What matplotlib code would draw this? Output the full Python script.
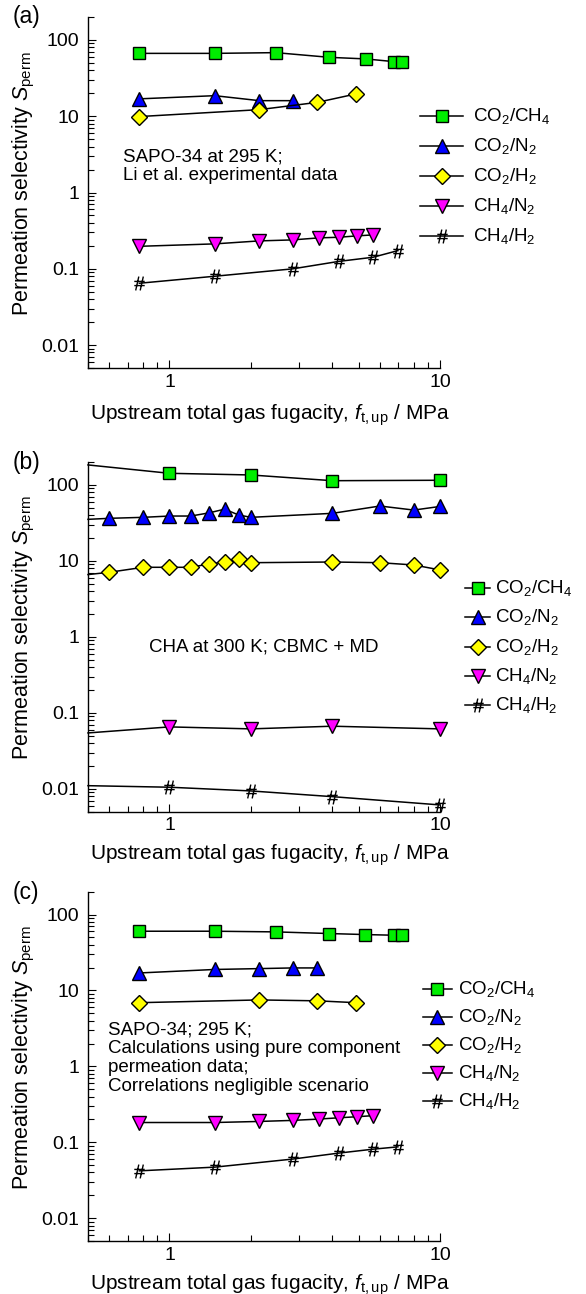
import matplotlib
matplotlib.use('Agg')
import matplotlib.pyplot as plt
from matplotlib.path import Path
from matplotlib.lines import Line2D
from matplotlib.ticker import NullFormatter

plt.rcParams['font.family'] = ['Liberation Sans', 'DejaVu Sans']
plt.rcParams['mathtext.fontset'] = 'custom'
plt.rcParams['mathtext.rm'] = 'Liberation Sans'
plt.rcParams['mathtext.it'] = 'Liberation Sans:italic'
plt.rcParams['font.size'] = 13.5

# ---- panel (a): SAPO-34 experimental
a_f_co2ch4 = [0.774, 1.47, 2.47, 3.90, 5.32, 6.75, 7.26]
a_s_co2ch4 = [66.7, 66.7, 68.2, 59.2, 56.4, 52.0, 52.0]
a_f_co2n2 = [0.774, 1.47, 2.15, 2.85]
a_s_co2n2 = [16.9, 18.6, 16.0, 16.0]
a_f_co2h2 = [0.774, 2.15, 3.52, 4.89]
a_s_co2h2 = [9.9, 12.2, 15.2, 19.6]
a_f_ch4n2 = [0.774, 1.47, 2.15, 2.85, 3.56, 4.23, 4.94, 5.65]
a_s_ch4n2 = [0.197, 0.212, 0.232, 0.239, 0.254, 0.259, 0.270, 0.278]
a_f_ch4h2 = [0.774, 1.47, 2.85, 4.23, 5.65, 6.99]
a_s_ch4h2 = [0.0646, 0.0798, 0.0997, 0.125, 0.1415, 0.173]

# ---- panel (b): CHA CBMC + MD (first point at 0.5 drawn without marker)
b_f_co2ch4 = [0.5, 1, 2, 4, 10]
b_s_co2ch4 = [183, 142, 135, 113.5, 115]
b_f_co2n2 = [0.5, 0.6, 0.8, 1.0, 1.2, 1.4, 1.6, 1.8, 2.0, 4, 6, 8, 10]
b_s_co2n2 = [35.2, 36.3, 37.4, 38.9, 38.9, 42.8, 47.9, 40.2, 37.4, 42.2, 52.7, 46.6, 52]
b_f_co2h2 = [0.5, 0.6, 0.8, 1.0, 1.2, 1.4, 1.6, 1.8, 2.0, 4, 6, 8, 10]
b_s_co2h2 = [6.6, 7.08, 8.23, 8.23, 8.23, 9.10, 9.66, 10.6, 9.46, 9.66, 9.46, 8.83, 7.6]
b_f_ch4n2 = [0.5, 1, 2, 4, 10]
b_s_ch4n2 = [0.0544, 0.0653, 0.0615, 0.0667, 0.0615]
b_f_ch4h2 = [0.5, 1, 2, 4, 10]
b_s_ch4h2 = [0.0110, 0.0105, 0.00938, 0.00789, 0.00614]

# ---- panel (c): SAPO-34 calculated
c_f_co2ch4 = [0.774, 1.47, 2.47, 3.90, 5.28, 6.75, 7.26]
c_s_co2ch4 = [60.3, 60.3, 59.1, 56.2, 54.5, 53.4, 53.4]
c_f_co2n2 = [0.774, 1.47, 2.15, 2.85, 3.52]
c_s_co2n2 = [17.0, 18.9, 19.4, 19.8, 19.8]
c_f_co2h2 = [0.774, 2.15, 3.52, 4.89]
c_s_co2h2 = [6.9, 7.5, 7.3, 6.9]
c_f_ch4n2 = [0.774, 1.47, 2.15, 2.85, 3.56, 4.23, 4.94, 5.65]
c_s_ch4n2 = [0.182, 0.182, 0.188, 0.194, 0.202, 0.210, 0.217, 0.224]
c_f_ch4h2 = [0.774, 1.47, 2.85, 4.23, 5.65, 6.99]
c_s_ch4h2 = [0.042, 0.047, 0.060, 0.072, 0.081, 0.087]

labels = ['CO$_2$/CH$_4$', 'CO$_2$/N$_2$', 'CO$_2$/H$_2$', 'CH$_4$/N$_2$', 'CH$_4$/H$_2$']

# slanted "#" marker
hash_marker = Path([(-0.55, -1), (-0.1, 1), (0.1, -1), (0.55, 1),
                    (-0.75, 0.3), (0.75, 0.3), (-0.75, -0.3), (0.75, -0.3)],
                   [Path.MOVETO, Path.LINETO] * 4)

styles = [dict(marker='s', mfc='#00ee00', ms=9),
          dict(marker='^', mfc='#0000ff', ms=10),
          dict(marker='D', mfc='#ffff00', ms=8.5),
          dict(marker='v', mfc='#ff00ff', ms=10),
          dict(marker=hash_marker, mfc='none', ms=10)]

W, H = 586, 1294
fig = plt.figure(figsize=(W / 100, H / 100), dpi=100)

def px_rect(l, t, r, b):
    return [l / W, 1 - b / H, (r - l) / W, (b - t) / H]

panels = [
    dict(rect=px_rect(88, 17, 440, 368), tag='(a)', tag_y=17, xl_y=-0.097,
         data=[(a_f_co2ch4, a_s_co2ch4), (a_f_co2n2, a_s_co2n2), (a_f_co2h2, a_s_co2h2),
               (a_f_ch4n2, a_s_ch4n2), (a_f_ch4h2, a_s_ch4h2)],
         skip_first=False,
         note='SAPO-34 at 295 K;\nLi et al. experimental data', note_xy=(123, 166),
         leg=dict(x0=420, x1=463, xt=473, rows=[116, 146, 176, 206, 236])),
    dict(rect=px_rect(88, 462, 440, 811.7), tag='(b)', tag_y=463, xl_y=-0.087,
         data=[(b_f_co2ch4, b_s_co2ch4), (b_f_co2n2, b_s_co2n2), (b_f_co2h2, b_s_co2h2),
               (b_f_ch4n2, b_s_ch4n2), (b_f_ch4h2, b_s_ch4h2)],
         skip_first=True,
         note='CHA at 300 K; CBMC + MD', note_xy=(149, 647),
         leg=dict(x0=465, x1=490, xt=495, rows=[588, 617, 647, 676, 705])),
    dict(rect=px_rect(88, 891.7, 440, 1241), tag='(c)', tag_y=893, xl_y=-0.089,
         data=[(c_f_co2ch4, c_s_co2ch4), (c_f_co2n2, c_s_co2n2), (c_f_co2h2, c_s_co2h2),
               (c_f_ch4n2, c_s_ch4n2), (c_f_ch4h2, c_s_ch4h2)],
         skip_first=False,
         note='SAPO-34; 295 K;\nCalculations using pure component\npermeation data;\nCorrelations negligible scenario',
         note_xy=(108, 1058),
         leg=dict(x0=423, x1=452, xt=458, rows=[989, 1017, 1045, 1073, 1101])),
]

for p in panels:
    ax = fig.add_axes(p['rect'])
    for (f, s), st in zip(p['data'], styles):
        me = slice(1, None) if p['skip_first'] else None
        ax.plot(f, s, color='black', lw=1.1, marker=st['marker'], ms=st['ms'],
                mfc=st['mfc'], mec='black', mew=1.0, markevery=me, clip_on=False)
    ax.set_xscale('log')
    ax.set_yscale('log')
    ax.set_xlim(0.5, 10)
    ax.set_ylim(0.005, 200)
    ax.set_xticks([1, 10], labels=['1', '10'])
    ax.set_yticks([0.01, 0.1, 1, 10, 100], labels=['0.01', '0.1', '1', '10', '100'])
    ax.xaxis.set_minor_formatter(NullFormatter())
    ax.yaxis.set_minor_formatter(NullFormatter())
    for side in ['top', 'right']:
        ax.spines[side].set_visible(False)
    for side in ['left', 'bottom']:
        ax.spines[side].set_linewidth(1.0)
    ax.tick_params(which='both', direction='in', top=False, right=False, width=0.8)
    ax.tick_params(which='major', length=5.5, labelsize=14)
    ax.tick_params(which='minor', length=4)
    ax.tick_params(axis='x', which='major', pad=4)
    ax.tick_params(axis='y', which='major', pad=6.5)
    ax.set_xlabel('Upstream total gas fugacity, $f_{\\mathrm{t,up}}$ / MPa', fontsize=15)
    ax.set_ylabel('Permeation selectivity $S_{\\mathrm{perm}}$', fontsize=15.5)
    ax.xaxis.set_label_coords(0.516, p['xl_y'])
    ax.yaxis.set_label_coords(-0.145, 0.526)

    fig.text(13 / W, 1 - p['tag_y'] / H, p['tag'], va='center', ha='left', fontsize=16.5)
    nx, ny = p['note_xy']
    fig.text(nx / W, 1 - ny / H, p['note'], va='center', ha='left', fontsize=13.5,
             linespacing=1.15)

    lg = p['leg']
    for row, st, lab in zip(lg['rows'], styles, labels):
        yy = 1 - row / H
        fig.add_artist(Line2D([lg['x0'] / W, lg['x1'] / W], [yy, yy], color='black', lw=1.1,
                              transform=fig.transFigure))
        fig.add_artist(Line2D([(lg['x0'] + lg['x1']) / 2 / W], [yy], marker=st['marker'],
                              ms=st['ms'], mfc=st['mfc'], mec='black', mew=1.0, lw=0,
                              transform=fig.transFigure))
        fig.text(lg['xt'] / W, yy, lab, va='center', ha='left', fontsize=13.5)

fig.savefig('out.png', dpi=100)
